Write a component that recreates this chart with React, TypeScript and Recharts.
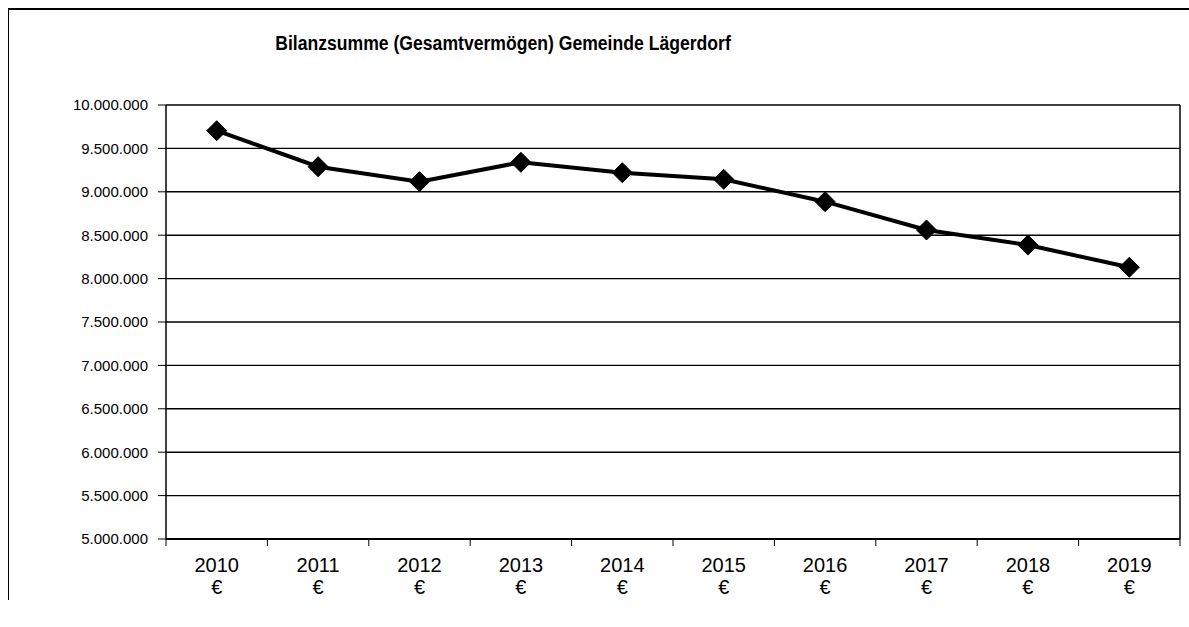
import { LineChart, Line, XAxis, YAxis, CartesianGrid } from "recharts";

const years = ["2010", "2011", "2012", "2013", "2014", "2015", "2016", "2017", "2018", "2019"];
const bilanzsumme = [9704000, 9289000, 9117000, 9340000, 9220000, 9144000, 8886000, 8560000, 8387000, 8130000];
const yTicks = [5000000, 5500000, 6000000, 6500000, 7000000, 7500000, 8000000, 8500000, 9000000, 9500000, 10000000];

const data = years.map((year, i) => ({ year, value: bilanzsumme[i] }));

const font = "'Liberation Sans', Arial, sans-serif";

const fmt = (v: number) => v.toLocaleString("de-DE");

function Diamond(props: any) {
  const { cx, cy } = props;
  if (cx == null || cy == null) return null;
  const r = 10;
  return (
    <polygon
      points={`${cx},${cy - r} ${cx + r},${cy} ${cx},${cy + r} ${cx - r},${cy}`}
      fill="#000"
      stroke="#000"
    />
  );
}

function YearTick(props: any) {
  const { x, y, payload, index } = props;
  const off = payload.offset || 0;
  const last = index === years.length - 1;
  return (
    <g>
      <line x1={x - off} y1={y} x2={x - off} y2={y + 7} stroke="#000" strokeWidth={1} />
      {last && <line x1={x + off} y1={y} x2={x + off} y2={y + 7} stroke="#000" strokeWidth={1} />}
      <text x={x} y={y + 33} textAnchor="middle" fontFamily={font} fontSize={20} fill="#000">
        {payload.value}
      </text>
      <text x={x} y={y + 55} textAnchor="middle" fontFamily={font} fontSize={20} fill="#000">
        €
      </text>
    </g>
  );
}

export default function App() {
  return (
    <div style={{ position: "absolute", left: 0, top: 0, width: 1189, height: 627, background: "#fff", overflow: "hidden" }}>
      {/* outer frame (scanned page border) */}
      <div style={{ position: "absolute", left: 8, top: 8, width: 1181, height: 0, borderTop: "2px solid #000" }} />
      <div style={{ position: "absolute", left: 8, top: 8, width: 0, height: 592, borderLeft: "1px solid #000" }} />

      <div style={{
        position: "absolute", left: 0, width: 1006, top: 32, textAlign: "center",
        fontFamily: font, fontWeight: 700, fontSize: 17.6, color: "#000",
        transform: "scaleY(1.15)", transformOrigin: "center top",
      }}>
        Bilanzsumme (Gesamtvermögen) Gemeinde Lägerdorf
      </div>

      <div style={{ position: "absolute", left: 0, top: 0 }}>
        <LineChart width={1189} height={627} data={data} margin={{ top: 105, right: 9, bottom: 28, left: 66 }}>
          <CartesianGrid horizontal vertical={false} stroke="#000" strokeWidth={1.4} />
          <XAxis
            dataKey="year"
            scale="band"
            axisLine={{ stroke: "#000", strokeWidth: 2 }}
            tickLine={false}
            tickSize={0}
            tickMargin={0}
            height={60}
            interval={0}
            tick={<YearTick />}
          />
          <YAxis
            domain={[5000000, 10000000]}
            ticks={yTicks}
            tickFormatter={fmt}
            width={100}
            axisLine={{ stroke: "#000", strokeWidth: 1.5 }}
            tickLine={{ stroke: "#000" }}
            tickSize={8}
            tickMargin={10}
            interval={0}
            tick={{ fontFamily: font, fontSize: 15, fill: "#000" }}
          />
          <Line
            type="linear"
            dataKey="value"
            stroke="#000"
            strokeWidth={4}
            dot={<Diamond />}
            activeDot={false}
            isAnimationActive={false}
          />
          {/* right border of plot */}
          <line x1={1180} y1={105} x2={1180} y2={539} stroke="#000" strokeWidth={1.5} />
        </LineChart>
      </div>
    </div>
  );
}
